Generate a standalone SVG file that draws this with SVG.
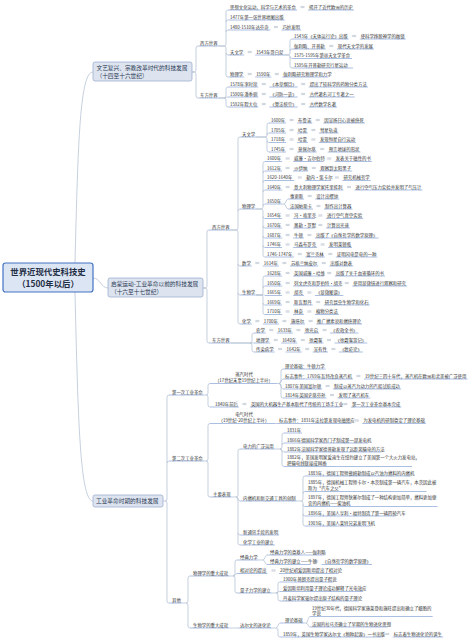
<svg xmlns="http://www.w3.org/2000/svg" width="474" height="643" viewBox="0 0 474 643">
<style>
text{font-family:"Noto Sans CJK SC","Noto Sans",sans-serif;fill:#333}
.t{font-size:4.4px}
.bt{font-size:5.7px;fill:#2b3a55}
.rt{font-size:8.4px;font-weight:bold;fill:#1f2d45}
.u{stroke:#86a3d6;stroke-width:0.7;fill:none}
.c{stroke:#aebbd0;stroke-width:0.7;fill:none}
.e{stroke:#9aa6b8;stroke-width:0.5;fill:none}
.b{fill:#dde4ef;stroke:#9db0d0;stroke-width:0.8}
.r{fill:#dbe5f3;stroke:#4472c4;stroke-width:1.2}
</style>
<rect width="474" height="643" fill="#ffffff"/>
<g id="connectors">
<path class="c" d="M75 263 C78 140 80 72 93 72 M93 278 C100 278 101 288 108 288 M75 292 C78 420 80 501 93 501"/>
<path class="c" d="M192 72 H194 Q196 72 196 70 V48 Q196 46 198 46 M192 72 H194 Q196 72 196 74 V96 Q196 98 198 98"/>
<path class="c" d="M218.6 46 H224 Q226 46 226 44 V12 Q226 10 228 10 M226 22 Q226 20 228 20 M226 32 Q226 30 228 30 M218.6 46 H224 Q226 46 226 48 V75 Q226 77 228 77 M226 53 Q226 55 228 55"/>
<path class="c" d="M284.5 55 H288 Q290 55 290 53 V41 Q290 39 292 39 M290 51 Q290 49 292 49 M284.5 55 H288 Q290 55 290 57 V66 Q290 68 292 68 M290 56.5 Q290 58.5 292 58.5"/>
<path class="c" d="M218.6 98 H224 Q226 98 226 96 V89 Q226 87 228 87 M224 98 C226 98 226 97 228 97 M218.6 98 H224 Q226 98 226 100 V105 Q226 107 228 107"/>
<path class="c" d="M203 288 H205 Q207 288 207 286 V232 Q207 230 209 230 M203 288 H205 Q207 288 207 290 V341 Q207 343 209 343"/>
<path class="c" d="M230.6 230 H236 Q238 230 238 228 V139 Q238 137 240 137 M238 211 Q238 209 240 209 M230.6 230 H236 Q238 230 238 232 V322 Q238 324 240 324 M238 264 Q238 266 240 266 M238 293 Q238 295 240 295"/>
<path class="c" d="M256.2 137 H265 Q267 137 267 135 V125 Q267 123 269 123 M267 135 Q267 133 269 133 M256.2 137 H265 Q267 137 267 139 V150 Q267 152 269 152 M267 140.5 Q267 142.5 269 142.5"/>
<path class="c" d="M256.2 209 H261 Q263 209 263 207 V163.5 Q263 161.5 265 161.5 M263 173 Q263 171 265 171 M263 182.5 Q263 180.5 265 180.5 M263 192 Q263 190 265 190 M263 206 Q263 204 265 204 M256.2 209 H261 Q263 209 263 211 V255 Q263 257 265 257 M263 216.5 Q263 218.5 265 218.5 M263 226 Q263 228 265 228 M263 236 Q263 238 265 238 M263 245.5 Q263 247.5 265 247.5"/>
<path class="c" d="M282.1 204 H284 C286 204 286 199 288 199 M284 204 C286 204 286 209 288 209"/>
<path class="c" d="M256.2 295 H261 Q263 295 263 293 V278 Q263 276 265 276 M263 288 Q263 286 265 286 M256.2 295 H265 M256.2 295 H261 Q263 295 263 297 V312.5 Q263 314.5 265 314.5 M263 303 Q263 305 265 305"/>
<path class="c" d="M230.6 343 H250 Q252 343 252 341 V335 Q252 333 254 333 M230.6 343 H254 M250 343 Q252 343 252 345 V350 Q252 352 254 352"/>
<path class="c" d="M163 501 H165 Q167 501 167 499 V397 Q167 395 169 395 M167 463 Q167 461 169 461 M165 501 Q167 501 167 503 V601 Q167 603 169 603"/>
<path class="c" d="M203.8 395 H206 Q208 395 208 393 V385.5 Q208 383.5 210 383.5 M206 395 Q208 395 208 397 V405 Q208 407 210 407"/>
<path class="c" d="M277 383.5 H279 Q281 383.5 281 381.5 V371 Q281 369 283 369 M279 383.5 C281 383.5 281 379 283 379 M279 383.5 C281 383.5 281 389 283 389 M279 383.5 Q281 383.5 281 385.5 V396 Q281 398 283 398"/>
<path class="c" d="M203.8 461 H206 Q208 461 208 459 V425.5 Q208 423.5 210 423.5 M206 461 Q208 461 208 463 V495 Q208 497 210 497"/>
<path class="c" d="M275 423.5 H277"/>
<path class="c" d="M231.6 497 H236 Q238 497 238 495 V451 Q238 449 240 449 M236 497 C238 497 238 501 240 501 M236 497 Q238 497 238 499 V543 Q238 545 240 545 M238 533 Q238 535 240 535"/>
<path class="c" d="M274.8 449 H280 Q282 449 282 447 V435 Q282 433 284 433 M282 445 Q282 443 284 443 M280 449 C282 449 282 452 284 452 M280 449 Q282 449 282 451 V464.5 Q282 466.5 284 466.5"/>
<path class="c" d="M296.8 501 H301 Q303 501 303 499 V478 Q303 476 305 476 M303 493.5 Q303 491.5 305 491.5 M301 501 Q303 501 303 503 V524 Q303 526 305 526 M303 504.5 Q303 506.5 305 506.5 M303 514 Q303 516 305 516"/>
<path class="c" d="M181.8 603 H186 Q188 603 188 601 V578 Q188 576 190 576 M186 603 Q188 603 188 605 V626 Q188 628 190 628"/>
<path class="c" d="M229.2 576 H233 Q235 576 235 574 V562 Q235 560 237 560 M233 576 C235 576 235 573.5 237 573.5 M233 576 Q235 576 235 578 V591 Q235 593 237 593"/>
<path class="c" d="M258.6 560 H263 C265 560 265 555 267 555 M263 560 C265 560 265 564.5 267 564.5"/>
<path class="c" d="M271.8 593 H276 Q278 593 278 591 V584 Q278 582 280 582 M276 593 C278 593 278 591.5 280 591.5 M276 593 Q278 593 278 595 V599 Q278 601 280 601"/>
<path class="c" d="M229.2 628 H238 M271.8 628 H276 C278 628 278 623 280 623 M276 628 Q278 628 278 630 V635 Q278 637 280 637"/>
<path class="c" d="M303.6 623 H306 C308 623 308 616.5 310 616.5 M306 623 C308 623 308 627 310 627"/>
<path class="e" d="M300.5 6.4h4M300.5 7.6h4 M273.9 26.4h4M273.9 27.6h4 M247.7 51.4h4M247.7 52.6h4 M352.2 35.4h4M352.2 36.6h4 M329.3 45.4h4M329.3 46.6h4 M247.7 73.4h4M247.7 74.6h4 M274.8 73.4h4M274.8 74.6h4 M261.8 83.4h4M261.8 84.6h4 M301.2 83.4h4M301.2 84.6h4 M261.8 93.4h4M261.8 94.6h4 M301.2 93.4h4M301.2 94.6h4 M261.8 103.4h4M261.8 104.6h4 M301.2 103.4h4M301.2 104.6h4"/>
<path class="e" d="M289.6 119.4h4M289.6 120.6h4 M315.8 119.4h4M315.8 120.6h4 M289.6 129.4h4M289.6 130.6h4 M311.4 129.4h4M311.4 130.6h4 M289.6 138.9h4M289.6 140.1h4 M311.4 138.9h4M311.4 140.1h4 M289.6 148.4h4M289.6 149.6h4 M320.2 148.4h4M320.2 149.6h4"/>
<path class="e" d="M285.6 157.9h4M285.6 159.1h4 M327.2 157.9h4M327.2 159.1h4 M285.6 167.4h4M285.6 168.6h4 M311.8 167.4h4M311.8 168.6h4 M297.7 176.9h4M297.7 178.1h4 M334.9 176.9h4M334.9 178.1h4 M285.6 186.4h4M285.6 187.6h4 M347 186.4h4M347 187.6h4 M307.7 195.4h4M307.7 196.6h4 M316.5 205.4h4M316.5 206.6h4 M285.6 214.9h4M285.6 216.1h4 M318.4 214.9h4M318.4 216.1h4 M285.6 224.4h4M285.6 225.6h4 M318.4 224.4h4M318.4 225.6h4 M285.6 234.4h4M285.6 235.6h4 M307.4 234.4h4M307.4 235.6h4 M285.6 243.9h4M285.6 245.1h4 M320.6 243.9h4M320.6 245.1h4 M297.7 253.4h4M297.7 254.6h4 M328.3 253.4h4M328.3 254.6h4"/>
<path class="e" d="M255.3 262.4h4M255.3 263.6h4 M282.4 262.4h4M282.4 263.6h4 M321.8 262.4h4M321.8 263.6h4 M285.6 272.4h4M285.6 273.6h4 M327.2 272.4h4M327.2 273.6h4 M285.6 282.4h4M285.6 283.6h4 M344.8 282.4h4M344.8 283.6h4 M285.6 291.9h4M285.6 293.1h4 M307.4 291.9h4M307.4 293.1h4 M285.6 301.4h4M285.6 302.6h4 M316.2 301.4h4M316.2 302.6h4 M285.6 310.9h4M285.6 312.1h4 M307.4 310.9h4M307.4 312.1h4 M255.3 320.4h4M255.3 321.6h4 M282.4 320.4h4M282.4 321.6h4 M308.6 320.4h4M308.6 321.6h4"/>
<path class="e" d="M269.3 329.4h4M269.3 330.6h4 M296.4 329.4h4M296.4 330.6h4 M322.6 329.4h4M322.6 330.6h4 M273.7 339.4h4M273.7 340.6h4 M300.8 339.4h4M300.8 340.6h4 M327 339.4h4M327 340.6h4 M278.1 348.4h4M278.1 349.6h4 M305.2 348.4h4M305.2 349.6h4 M331.4 348.4h4M331.4 349.6h4"/>
<path class="e" d="M356.4 375.4h4M356.4 376.6h4 M325.6 385.4h4M325.6 386.6h4 M330 394.4h4M330 395.6h4 M242.4 403.4h4M242.4 404.6h4 M343.4 403.4h4M343.4 404.6h4 M354.8 419.9h4M354.8 421.1h4 M271.5 569.9h4M271.5 571.1h4 M314.1 560.9h4M314.1 562.1h4 M385.2 633.4h4M385.2 634.6h4"/>
</g>
<g id="root"><rect class="r" x="3" y="263" width="90" height="29" rx="2.5"/><text class="rt" x="48" y="274.5" text-anchor="middle">世界近现代史科技史</text><text class="rt" x="48" y="287" text-anchor="middle">（1500年以后）</text></g>
<g id="b1"><rect class="b" x="93" y="62" width="99" height="19" rx="2"/><text class="bt" x="96.5" y="69.5">文艺复兴、宗教改革时代的科技发展</text><text class="bt" x="96.5" y="78">（十四至十六世纪）</text></g>
<g id="b1w"><text class="t" x="200" y="44.55">西方世界</text><path class="u" d="M198 46 H218.6"/></g>
<g id="b1e"><text class="t" x="200" y="96.55">东方世界</text><path class="u" d="M198 98 H218.6"/></g>
<g id="b1w1"><text class="t" x="230" y="8.55">思想文化运动，科学与艺术的革命</text><path class="u" d="M228 10 H297"/><text class="t" x="309" y="8.55">揭开了近代欧洲的历史</text><path class="u" d="M308 10 H354"/></g>
<g id="b1w2"><text class="t" x="230" y="18.55">1477年第一张世界地图出版</text><path class="u" d="M228 20 H284.7"/></g>
<g id="b1w3"><text class="t" x="230" y="28.55">1480-1510年达芬奇</text><path class="u" d="M228 30 H270.4"/><text class="t" x="282.4" y="28.55">巧妙发明</text><path class="u" d="M281.4 30 H301"/></g>
<g id="b1w4"><text class="t" x="230" y="53.55">天文学</text><path class="u" d="M228 55 H244.2"/><text class="t" x="256.2" y="53.55">1543年哥白尼</text><path class="u" d="M255.2 55 H284.5"/></g>
<g id="b1w4a"><text class="t" x="294" y="37.55">1543年《天体运行论》出版</text><path class="u" d="M292 39 H348.7"/><text class="t" x="360.7" y="37.55">使科学挣脱神学的枷锁</text><path class="u" d="M359.7 39 H405.7"/></g>
<g id="b1w4b"><text class="t" x="294" y="47.55">伽利略、开普勒</text><path class="u" d="M292 49 H325.8"/><text class="t" x="337.8" y="47.55">现代天文学的发展</text><path class="u" d="M336.8 49 H374"/></g>
<g id="b1w4c"><text class="t" x="294" y="57.05">1575-1595年第谷天文学革命</text><path class="u" d="M292 58.5 H352"/></g>
<g id="b1w4d"><text class="t" x="294" y="66.55">1595年开普勒研究行星运动</text><path class="u" d="M292 68 H353.1"/></g>
<g id="b1w5"><text class="t" x="230" y="75.55">物理学</text><path class="u" d="M228 77 H244.2"/><text class="t" x="256.2" y="75.55">1590年</text><path class="u" d="M255.2 77 H271.3"/><text class="t" x="283.3" y="75.55">伽利略研究物理学和力学</text><path class="u" d="M282.3 77 H328.3"/></g>
<g id="b1e1"><text class="t" x="230" y="85.55">1578年李时珍</text><path class="u" d="M228 87 H258.3"/><text class="t" x="270.3" y="85.55">《本草纲目》</text><path class="u" d="M269.3 87 H297.7"/><text class="t" x="309.7" y="85.55">提出了较科学的药物分类方法</text><path class="u" d="M308.7 87 H367.9"/></g>
<g id="b1e2"><text class="t" x="230" y="95.55">1590年潘季驯</text><path class="u" d="M228 97 H258.3"/><text class="t" x="270.3" y="95.55">《河防一览》</text><path class="u" d="M269.3 97 H297.7"/><text class="t" x="309.7" y="95.55">古代著名河工专著之一</text><path class="u" d="M308.7 97 H354.7"/></g>
<g id="b1e3"><text class="t" x="230" y="105.55">1592年程大位</text><path class="u" d="M228 107 H258.3"/><text class="t" x="270.3" y="105.55">《算法统宗》</text><path class="u" d="M269.3 107 H297.7"/><text class="t" x="309.7" y="105.55">古代数学名著</text><path class="u" d="M308.7 107 H337.1"/></g>
<g id="b2"><rect class="b" x="108" y="278" width="95" height="19" rx="2"/><text class="bt" x="111" y="285.5">启蒙运动-工业革命以前的科技发展</text><text class="bt" x="111" y="293.8">（十六至十七世纪）</text></g>
<g id="b2w"><text class="t" x="212" y="228.55">西方世界</text><path class="u" d="M209 230 H230.6"/></g>
<g id="b2e"><text class="t" x="212" y="341.55">东方世界</text><path class="u" d="M209 343 H230.6"/></g>
<g id="b2w1"><text class="t" x="242" y="135.55">天文学</text><path class="u" d="M240 137 H256.2"/></g>
<g id="b2w1a"><text class="t" x="271" y="121.55">1600年</text><path class="u" d="M269 123 H286.1"/><text class="t" x="298.1" y="121.55">布鲁诺</text><path class="u" d="M297.1 123 H312.3"/><text class="t" x="324.3" y="121.55">因宣扬日心说被烧死</text><path class="u" d="M323.3 123 H364.9"/></g>
<g id="b2w1b"><text class="t" x="271" y="131.55">1705年</text><path class="u" d="M269 133 H286.1"/><text class="t" x="298.1" y="131.55">哈雷</text><path class="u" d="M297.1 133 H307.9"/><text class="t" x="319.9" y="131.55">彗星轨道</text><path class="u" d="M318.9 133 H338.5"/></g>
<g id="b2w1c"><text class="t" x="271" y="141.05">1718年</text><path class="u" d="M269 142.5 H286.1"/><text class="t" x="298.1" y="141.05">哈雷</text><path class="u" d="M297.1 142.5 H307.9"/><text class="t" x="319.9" y="141.05">发现恒星自行运动</text><path class="u" d="M318.9 142.5 H356.1"/></g>
<g id="b2w1d"><text class="t" x="271" y="150.55">1745年</text><path class="u" d="M269 152 H286.1"/><text class="t" x="298.1" y="150.55">莫佩尔蒂</text><path class="u" d="M297.1 152 H316.7"/><text class="t" x="328.7" y="150.55">预言地球的形状</text><path class="u" d="M327.7 152 H360.5"/></g>
<g id="b2w2"><text class="t" x="242" y="207.55">物理学</text><path class="u" d="M240 209 H256.2"/></g>
<g id="b2w2a"><text class="t" x="267" y="160.05">1600年</text><path class="u" d="M265 161.5 H282.1"/><text class="t" x="294.1" y="160.05">威廉·吉尔伯特</text><path class="u" d="M293.1 161.5 H323.7"/><text class="t" x="335.7" y="160.05">发表关于磁性的书</text><path class="u" d="M334.7 161.5 H371.9"/></g>
<g id="b2w2b"><text class="t" x="267" y="169.55">1612年</text><path class="u" d="M265 171 H282.1"/><text class="t" x="294.1" y="169.55">沙伊纳</text><path class="u" d="M293.1 171 H308.3"/><text class="t" x="320.3" y="169.55">观察到太阳黑子</text><path class="u" d="M319.3 171 H352.1"/></g>
<g id="b2w2c"><text class="t" x="267" y="179.05">1620-1640年</text><path class="u" d="M265 180.5 H294.2"/><text class="t" x="306.2" y="179.05">勒内·笛卡尔</text><path class="u" d="M305.2 180.5 H331.4"/><text class="t" x="343.4" y="179.05">研究机械哲学</text><path class="u" d="M342.4 180.5 H370.8"/></g>
<g id="b2w2d"><text class="t" x="267" y="188.55">1640年</text><path class="u" d="M265 190 H282.1"/><text class="t" x="294.1" y="188.55">意大利物理学家托里拆利</text><path class="u" d="M293.1 190 H343.5"/><text class="t" x="355.5" y="188.55">进行空气压力实验并发明了气压计</text><path class="u" d="M354.5 190 H422.5"/></g>
<g id="b2w2e"><text class="t" x="267" y="202.55">1650年</text><path class="u" d="M265 204 H282.1"/></g>
<g id="b2w2e1"><text class="t" x="290" y="197.55">惠更斯</text><path class="u" d="M288 199 H304.2"/><text class="t" x="316.2" y="197.55">设计出摆钟</text><path class="u" d="M315.2 199 H339.2"/></g>
<g id="b2w2e2"><text class="t" x="290" y="207.55">法国帕斯卡</text><path class="u" d="M288 209 H313"/><text class="t" x="325" y="207.55">制作出计算器</text><path class="u" d="M324 209 H352.4"/></g>
<g id="b2w2f"><text class="t" x="267" y="217.05">1654年</text><path class="u" d="M265 218.5 H282.1"/><text class="t" x="294.1" y="217.05">冯·格里克</text><path class="u" d="M293.1 218.5 H314.9"/><text class="t" x="326.9" y="217.05">进行空气真空实验</text><path class="u" d="M325.9 218.5 H363.1"/></g>
<g id="b2w2g"><text class="t" x="267" y="226.55">1670年</text><path class="u" d="M265 228 H282.1"/><text class="t" x="294.1" y="226.55">奥勒·罗默</text><path class="u" d="M293.1 228 H314.9"/><text class="t" x="326.9" y="226.55">计算出光速</text><path class="u" d="M325.9 228 H349.9"/></g>
<g id="b2w2h"><text class="t" x="267" y="236.55">1687年</text><path class="u" d="M265 238 H282.1"/><text class="t" x="294.1" y="236.55">牛顿</text><path class="u" d="M293.1 238 H303.9"/><text class="t" x="315.9" y="236.55">出版了《自然哲学的数学原理》</text><path class="u" d="M314.9 238 H378.5"/></g>
<g id="b2w2i"><text class="t" x="267" y="246.05">1746年</text><path class="u" d="M265 247.5 H282.1"/><text class="t" x="294.1" y="246.05">马森布罗克</text><path class="u" d="M293.1 247.5 H317.1"/><text class="t" x="329.1" y="246.05">发明莱顿瓶</text><path class="u" d="M328.1 247.5 H352.1"/></g>
<g id="b2w2j"><text class="t" x="267" y="255.55">1746-1747年</text><path class="u" d="M265 257 H294.2"/><text class="t" x="306.2" y="255.55">富兰克林</text><path class="u" d="M305.2 257 H324.8"/><text class="t" x="336.8" y="255.55">证明闪电是电的一种</text><path class="u" d="M335.8 257 H377.4"/></g>
<g id="b2w3"><text class="t" x="242" y="264.55">数学</text><path class="u" d="M240 266 H251.8"/><text class="t" x="263.8" y="264.55">1614年</text><path class="u" d="M262.8 266 H278.9"/><text class="t" x="290.9" y="264.55">苏格兰纳皮尔</text><path class="u" d="M289.9 266 H318.3"/><text class="t" x="330.3" y="264.55">出版对数表</text><path class="u" d="M329.3 266 H353.3"/></g>
<g id="b2w4"><text class="t" x="242" y="293.55">生物学</text><path class="u" d="M240 295 H256.2"/></g>
<g id="b2w4a"><text class="t" x="267" y="274.55">1628年</text><path class="u" d="M265 276 H282.1"/><text class="t" x="294.1" y="274.55">英国威廉·哈维</text><path class="u" d="M293.1 276 H323.7"/><text class="t" x="335.7" y="274.55">出版了关于血液循环的书</text><path class="u" d="M334.7 276 H385.1"/></g>
<g id="b2w4b"><text class="t" x="267" y="284.55">1650年</text><path class="u" d="M265 286 H282.1"/><text class="t" x="294.1" y="284.55">列文虎克和罗伯特·胡克</text><path class="u" d="M293.1 286 H341.3"/><text class="t" x="353.3" y="284.55">使用显微镜进行观察和研究</text><path class="u" d="M352.3 286 H407.1"/></g>
<g id="b2w4c"><text class="t" x="267" y="294.05">1665年</text><path class="u" d="M265 295.5 H282.1"/><text class="t" x="294.1" y="294.05">胡克</text><path class="u" d="M293.1 295.5 H303.9"/><text class="t" x="315.9" y="294.05">《显微图谱》</text><path class="u" d="M314.9 295.5 H343.3"/></g>
<g id="b2w4d"><text class="t" x="267" y="303.55">1669年</text><path class="u" d="M265 305 H282.1"/><text class="t" x="294.1" y="303.55">斯瓦默丹</text><path class="u" d="M293.1 305 H312.7"/><text class="t" x="324.7" y="303.55">研究昆虫生物学和化石</text><path class="u" d="M323.7 305 H369.7"/></g>
<g id="b2w4e"><text class="t" x="267" y="313.05">1710年</text><path class="u" d="M265 314.5 H282.1"/><text class="t" x="294.1" y="313.05">林奈</text><path class="u" d="M293.1 314.5 H303.9"/><text class="t" x="315.9" y="313.05">植物分类法</text><path class="u" d="M314.9 314.5 H338.9"/></g>
<g id="b2w5"><text class="t" x="242" y="322.55">化学</text><path class="u" d="M240 324 H251.8"/><text class="t" x="263.8" y="322.55">1700年</text><path class="u" d="M262.8 324 H278.9"/><text class="t" x="290.9" y="322.55">施塔尔</text><path class="u" d="M289.9 324 H305.1"/><text class="t" x="317.1" y="322.55">推广燃素说和燃烧理论</text><path class="u" d="M316.1 324 H362.1"/></g>
<g id="b2e1"><text class="t" x="256" y="331.55">农学</text><path class="u" d="M254 333 H265.8"/><text class="t" x="277.8" y="331.55">1633年</text><path class="u" d="M276.8 333 H292.9"/><text class="t" x="304.9" y="331.55">徐光启</text><path class="u" d="M303.9 333 H319.1"/><text class="t" x="331.1" y="331.55">《农政全书》</text><path class="u" d="M330.1 333 H358.5"/></g>
<g id="b2e2"><text class="t" x="256" y="341.55">地理学</text><path class="u" d="M254 343 H270.2"/><text class="t" x="282.2" y="341.55">1640年</text><path class="u" d="M281.2 343 H297.3"/><text class="t" x="309.3" y="341.55">徐霞客</text><path class="u" d="M308.3 343 H323.5"/><text class="t" x="335.5" y="341.55">《徐霞客游记》</text><path class="u" d="M334.5 343 H367.3"/></g>
<g id="b2e3"><text class="t" x="256" y="350.55">传染病学</text><path class="u" d="M254 352 H274.6"/><text class="t" x="286.6" y="350.55">1642年</text><path class="u" d="M285.6 352 H301.7"/><text class="t" x="313.7" y="350.55">吴有性</text><path class="u" d="M312.7 352 H327.9"/><text class="t" x="339.9" y="350.55">《瘟疫论》</text><path class="u" d="M338.9 352 H362.9"/></g>
<g id="b3"><rect class="b" x="93" y="495" width="70" height="12" rx="2"/><text class="bt" x="96" y="503.2">工业革命时期的科技发展</text></g>
<g id="b3a"><text class="t" x="172" y="393.55">第一次工业革命</text><path class="u" d="M169 395 H203.8"/></g>
<g id="b3b"><text class="t" x="172" y="459.55">第二次工业革命</text><path class="u" d="M169 461 H203.8"/></g>
<g id="b3c"><text class="t" x="172" y="601.55">其他</text><path class="u" d="M169 603 H181.8"/></g>
<g id="b3a1"><text class="t" x="244" y="375.5" text-anchor="middle">蒸汽时代</text><text class="t" x="244" y="381.5" text-anchor="middle">（17世纪末至19世纪上半叶）</text><path class="u" d="M210 383.5 H277"/></g>
<g id="b3a1a"><text class="t" x="285" y="367.55">理论基础：牛顿力学</text><path class="u" d="M283 369 H325.6"/></g>
<g id="b3a1b"><text class="t" x="285" y="377.55">标志事件：1769年瓦特改良蒸汽机</text><path class="u" d="M283 379 H352.9"/><text class="t" x="364.9" y="377.55">19世纪三四十年代，蒸汽机在欧洲和北美被广泛使用</text><path class="u" d="M363.9 379 H467.5"/></g>
<g id="b3a1c"><text class="t" x="285" y="387.55">1807年美国富尔顿</text><path class="u" d="M283 389 H322.1"/><text class="t" x="334.1" y="387.55">制成以蒸汽为动力的汽船试航成功</text><path class="u" d="M333.1 389 H401.1"/></g>
<g id="b3a1d"><text class="t" x="285" y="396.55">1814年英国史蒂芬孙</text><path class="u" d="M283 398 H326.5"/><text class="t" x="338.5" y="396.55">发明了蒸汽机车</text><path class="u" d="M337.5 398 H370.3"/></g>
<g id="b3a2"><text class="t" x="215" y="405.55">1840年前后</text><path class="u" d="M210 407 H238.9"/><text class="t" x="250.9" y="405.55">英国的大机器生产基本取代了传统的工场手工业</text><path class="u" d="M249.9 407 H339.9"/><text class="t" x="351.9" y="405.55">第一次工业革命基本完成</text><path class="u" d="M350.9 407 H401.3"/></g>
<g id="b3b1"><text class="t" x="244" y="415.5" text-anchor="middle">电气时代</text><text class="t" x="244" y="421.5" text-anchor="middle">（19世纪-20世纪上半叶）</text><path class="u" d="M210 423.5 H275"/></g>
<g id="b3b1a"><text class="t" x="279" y="422.05">标志事件：1831年法拉第发现电磁感应</text><path class="u" d="M277 423.5 H351.3"/><text class="t" x="363.3" y="422.05">为发电机的研制奠定了理论基础</text><path class="u" d="M362.3 423.5 H425.9"/></g>
<g id="b3b2"><text class="t" x="213" y="495.55">主要表现</text><path class="u" d="M210 497 H231.6"/></g>
<g id="b3b2a"><text class="t" x="243" y="447.55">电力的广泛运用</text><path class="u" d="M240 449 H274.8"/></g>
<g id="b3b2a1"><text class="t" x="287" y="431.55">1831年</text><path class="u" d="M284 433 H302.1"/></g>
<g id="b3b2a2"><text class="t" x="287" y="441.55">1866年德国科学家西门子制成第一部发电机</text><path class="u" d="M284 443 H368.1"/></g>
<g id="b3b2a3"><text class="t" x="287" y="450.55">1882年法国科学家德普勒发现了远距离输电的方法</text><path class="u" d="M284 452 H381.3"/></g>
<g id="b3b2a4"><text class="t" x="287" y="459.3">1882年，美国发明家爱迪生在纽约建立了美国第一个大火力发电站，</text><text class="t" x="287" y="465">把输电线联接成网络</text><path class="u" d="M284 466.5 H412"/></g>
<g id="b3b2b"><text class="t" x="243" y="499.55">内燃机和新交通工具的创制</text><path class="u" d="M240 501 H296.8"/></g>
<g id="b3b2b1"><text class="t" x="308" y="474.55">1883年，德国工程师戴姆勒制成以汽油为燃料的内燃机</text><path class="u" d="M305 476 H411"/></g>
<g id="b3b2b2"><text class="t" x="308" y="484.3">1885年，德国机械工程师卡尔·本茨制成第一辆汽车，本茨因此被</text><text class="t" x="308" y="490">称为“汽车之父”</text><path class="u" d="M305 491.5 H426.5"/></g>
<g id="b3b2b3"><text class="t" x="308" y="499.3">1897年，德国工程师狄塞尔制成了一种结构更加简单，燃料更加便</text><text class="t" x="308" y="505">宜的内燃机——柴油机</text><path class="u" d="M305 506.5 H437.5"/></g>
<g id="b3b2b4"><text class="t" x="308" y="514.55">1896年，美国人亨利·福特制造了第一辆四轮汽车</text><path class="u" d="M305 516 H395.7"/></g>
<g id="b3b2b5"><text class="t" x="308" y="524.55">1903年，美国人莱特兄弟发明飞机</text><path class="u" d="M305 526 H371.5"/></g>
<g id="b3b2c"><text class="t" x="243" y="533.55">新通讯手段的发明</text><path class="u" d="M240 535 H279.2"/></g>
<g id="b3b2d"><text class="t" x="243" y="543.55">化学工业的建立</text><path class="u" d="M240 545 H274.8"/></g>
<g id="b3c1"><text class="t" x="193" y="574.55">物理学的重大成就</text><path class="u" d="M190 576 H229.2"/></g>
<g id="b3c1a"><text class="t" x="240" y="558.55">经典力学</text><path class="u" d="M237 560 H258.6"/></g>
<g id="b3c1a1"><text class="t" x="270" y="553.55">经典力学的奠基人——伽利略</text><path class="u" d="M267 555 H323.8"/></g>
<g id="b3c1a2"><text class="t" x="270" y="563.05">经典力学的建立——牛顿</text><path class="u" d="M267 564.5 H310.6"/><text class="t" x="322.6" y="563.05">《自然哲学的数学原理》</text><path class="u" d="M321.6 564.5 H372"/></g>
<g id="b3c1b"><text class="t" x="240" y="572.05">相对论的提出</text><path class="u" d="M237 573.5 H267.4"/><text class="t" x="280" y="572.05">20世纪初爱因斯坦提出了相对论</text><path class="u" d="M279 573.5 H338.6"/></g>
<g id="b3c1c"><text class="t" x="240" y="591.55">量子力学的建立</text><path class="u" d="M237 593 H271.8"/></g>
<g id="b3c1c1"><text class="t" x="283" y="580.55">1900年普朗克提出量子假说</text><path class="u" d="M280 582 H333.3"/></g>
<g id="b3c1c2"><text class="t" x="283" y="590.05">爱因斯坦利用量子理论成功解释了光电效应</text><path class="u" d="M280 591.5 H363.2"/></g>
<g id="b3c1c3"><text class="t" x="283" y="599.55">丹麦科学家玻尔提出原子结构的量子理论</text><path class="u" d="M280 601 H358.8"/></g>
<g id="b3c2"><text class="t" x="193" y="626.55">生物学的重大成就</text><path class="u" d="M190 628 H229.2"/></g>
<g id="b3c2a"><text class="t" x="240" y="626.55">达尔文的进化论</text><path class="u" d="M238 628 H271.8"/></g>
<g id="b3c2a1"><text class="t" x="285" y="621.55">理论基础</text><path class="u" d="M280 623 H303.6"/></g>
<g id="b3c2a1a"><text class="t" x="312" y="609.5">19世纪30年代，德国科学家施莱登和施旺提出和确立了细胞的</text><text class="t" x="312" y="615">学说</text><path class="u" d="M310 616.5 H432.7"/></g>
<g id="b3c2a1b"><text class="t" x="312" y="625.55">法国的拉马克确立了早期的生物进化思想</text><path class="u" d="M310 627 H387.8"/></g>
<g id="b3c2a2"><text class="t" x="283" y="635.55">1859年，英国生物学家达尔文《物种起源》一书出版</text><path class="u" d="M280 637 H381.7"/><text class="t" x="393.7" y="635.55">标志着生物进化论的诞生</text><path class="u" d="M392.7 637 H443.1"/></g>
</svg>
